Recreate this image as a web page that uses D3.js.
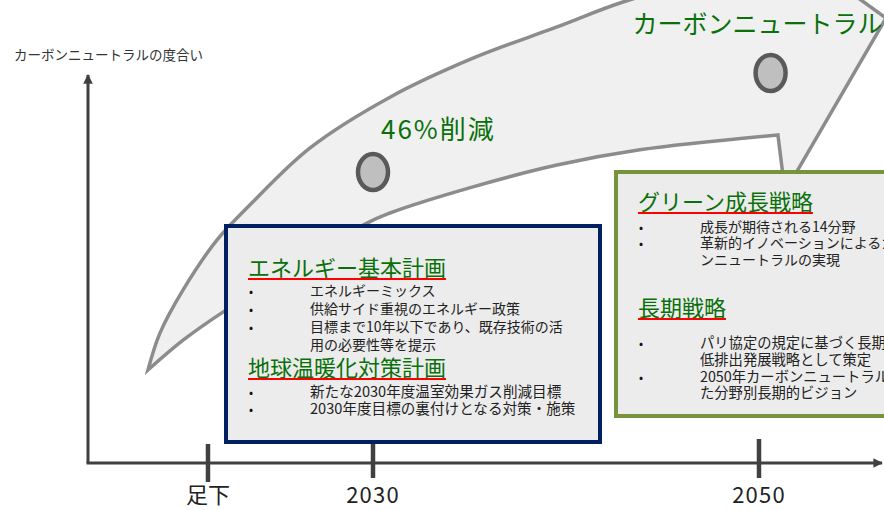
<!DOCTYPE html>
<html><head><meta charset="utf-8">
<script src="https://cdn.jsdelivr.net/npm/d3@7"></script>
<style>
html,body{margin:0;padding:0;background:#fff;}
svg{display:block;font-family:"Noto Sans CJK JP","Noto Sans",sans-serif;}
</style></head>
<body><svg id="chart" width="884" height="510"></svg>
<script>
// ---- data ----
const tickLabels = ["足下", "2030", "2050"];
const tickYears = [2021.45, 2030, 2050];
const yAxisTitle = "カーボンニュートラルの度合い";

const milestoneLabels = ["46%削減", "カーボンニュートラル"];
const milestoneYears = [2030, 2050.6];
const milestoneLevels = [74.6, 100];

// arrow outline (year, level)
const arrowUpperYears  = [2018.34, 2018.96, 2020.16, 2021.92, 2023.63, 2026.74, 2030.88, 2035.18, 2039.53, 2042.95, 2048.5];
const arrowUpperLevels = [23.85, 33.3, 44.4, 57.2, 66.2, 80.8, 93.8, 103.8, 111.8, 118.2, 125.9];
const arrowHeadYears   = [2052.12, 2056.58, 2051.35, 2050.98];
const arrowHeadLevels  = [130, 114.1, 69.5, 84.1];
const arrowLowerYears  = [2050.98, 2043.83, 2039.53, 2035.18, 2030.88, 2029.69, 2022.38, 2020.16, 2018.34];
const arrowLowerLevels = [84.1, 80.3, 76.4, 70.8, 64.1, 61.5, 39.2, 31.5, 23.85];

const blueHeadings = ["エネルギー基本計画", "地球温暖化対策計画"];
const blueItems1 = ["エネルギーミックス", "供給サイド重視のエネルギー政策", "目標まで10年以下であり、既存技術の活", "用の必要性等を提示"];
const blueBullets1 = [true, true, true, false];
const blueItems2 = ["新たな2030年度温室効果ガス削減目標", "2030年度目標の裏付けとなる対策・施策"];
const blueBullets2 = [true, true];

const greenHeadings = ["グリーン成長戦略", "長期戦略"];
const greenItems1 = ["成長が期待される14分野", "革新的イノベーションによるカーボ", "ンニュートラルの実現"];
const greenBullets1 = [true, true, false];
const greenItems2 = ["パリ協定の規定に基づく長期", "低排出発展戦略として策定", "2050年カーボンニュートラルに向け", "た分野別長期的ビジョン"];
const greenBullets2 = [true, false, true, false];

// ---- drawing ----
const W = 884, H = 510;
const svg = d3.select("#chart");
const x = d3.scaleLinear().domain([2030, 2050]).range([373, 759]);
const y = d3.scaleLinear().domain([0, 100]).range([463, 73]);
const axisLeft = 88;
const axisColor = "#404040";

const defs = svg.append("defs");
defs.append("marker").attr("id", "ah").attr("viewBox", "0 0 10 10").attr("refX", 9).attr("refY", 5)
  .attr("markerWidth", 3.2).attr("markerHeight", 3.2).attr("orient", "auto")
  .append("path").attr("d", "M0,0L10,5L0,10Z").attr("fill", axisColor);

// axes
svg.append("line").attr("x1", axisLeft).attr("y1", y(0)).attr("x2", axisLeft).attr("y2", y(100) + 2)
  .attr("stroke", axisColor).attr("stroke-width", 3).attr("marker-end", "url(#ah)");
svg.append("line").attr("x1", axisLeft - 1.5).attr("y1", y(0)).attr("x2", W - 2).attr("y2", y(0))
  .attr("stroke", axisColor).attr("stroke-width", 3).attr("marker-end", "url(#ah)");

svg.append("text").attr("x", 14).attr("y", 60).attr("font-size", 13.5).attr("fill", "#333")
  .text(yAxisTitle);

// ticks
tickYears.forEach((yr, i) => {
  svg.append("line").attr("x1", x(yr)).attr("x2", x(yr))
    .attr("y1", y(0) - (i === 2 ? 24 : 19)).attr("y2", y(0) + (i === 0 ? 19 : 15))
    .attr("stroke", axisColor).attr("stroke-width", 4.5);
  svg.append("text").attr("x", x(yr)).attr("y", 503).attr("text-anchor", "middle")
    .attr("font-size", 22).attr("letter-spacing", i === 0 ? 0 : 1.2)
    .attr("fill", "#222").text(tickLabels[i]);
});

// sweeping arrow
const pts = (ys, ls) => ys.map((v, i) => [x(v), y(ls[i])]);
const curve = d3.line().curve(d3.curveCatmullRom.alpha(0.5));
const upper = curve(pts(arrowUpperYears, arrowUpperLevels));
const head = pts(arrowHeadYears, arrowHeadLevels).map(p => "L" + p[0] + "," + p[1]).join("");
const lower = curve(pts(arrowLowerYears, arrowLowerLevels)).replace(/^M/, "L");
svg.append("path").attr("d", upper + head + lower + "Z")
  .attr("fill", "#f0f0f0").attr("stroke", "#8c8c8c").attr("stroke-width", 3.5)
  .attr("stroke-linejoin", "miter");

// milestones
milestoneYears.forEach((yr, i) => {
  const cx = x(yr), cy = y(milestoneLevels[i]);
  svg.append("ellipse").attr("cx", cx).attr("cy", cy).attr("rx", 15).attr("ry", 18)
    .attr("fill", "#bfbfbf").attr("stroke", "#595959").attr("stroke-width", 4.5);
  svg.append("text")
    .attr("x", i === 0 ? cx + 8 : cx - 13).attr("y", i === 0 ? cy - 33 : cy - 40)
    .attr("text-anchor", i === 0 ? "start" : "middle")
    .attr("font-size", i === 0 ? 26 : 25).attr("letter-spacing", i === 0 ? 2 : 0)
    .attr("fill", "#0a700a").text(milestoneLabels[i]);
});

// info boxes
function box(x0, y0, x1, y1, stroke) {
  svg.append("rect").attr("x", x0).attr("y", y0).attr("width", x1 - x0).attr("height", y1 - y0)
    .attr("fill", "#ececec").attr("stroke", stroke).attr("stroke-width", 4);
}
function heading(tx, by, str) {
  const t = svg.append("text").attr("x", tx).attr("y", by).attr("font-size", 22)
    .attr("fill", "#0a700a").text(str);
  const w = t.node().getComputedTextLength();
  svg.append("line").attr("x1", tx).attr("x2", tx + w).attr("y1", by + 3).attr("y2", by + 3)
    .attr("stroke", "#ff0000").attr("stroke-width", 2);
}
function items(bx, tx, baselines, strs, bullets, fs) {
  strs.forEach((s, i) => {
    if (bullets[i]) svg.append("text").attr("x", bx).attr("y", baselines[i]).attr("font-size", 12)
      .attr("fill", "#111").text("•");
    svg.append("text").attr("x", tx).attr("y", baselines[i]).attr("font-size", fs)
      .attr("fill", "#222").text(s);
  });
}

box(226, 226, 600, 442, "#002060");
heading(248, 276, blueHeadings[0]);
items(249, 310, [296, 314, 332, 350], blueItems1, blueBullets1, 14);
heading(248, 376, blueHeadings[1]);
items(249, 310, [397, 414], blueItems2, blueBullets2, 14.6);

box(616, 172, 900, 416, "#77933c");
heading(638, 210, greenHeadings[0]);
items(639, 700, [232, 248, 265], greenItems1, greenBullets1, 14);
heading(638, 316, greenHeadings[1]);
items(639, 700, [348, 365, 382, 398], greenItems2, greenBullets2, 14.3);
</script></body></html>
